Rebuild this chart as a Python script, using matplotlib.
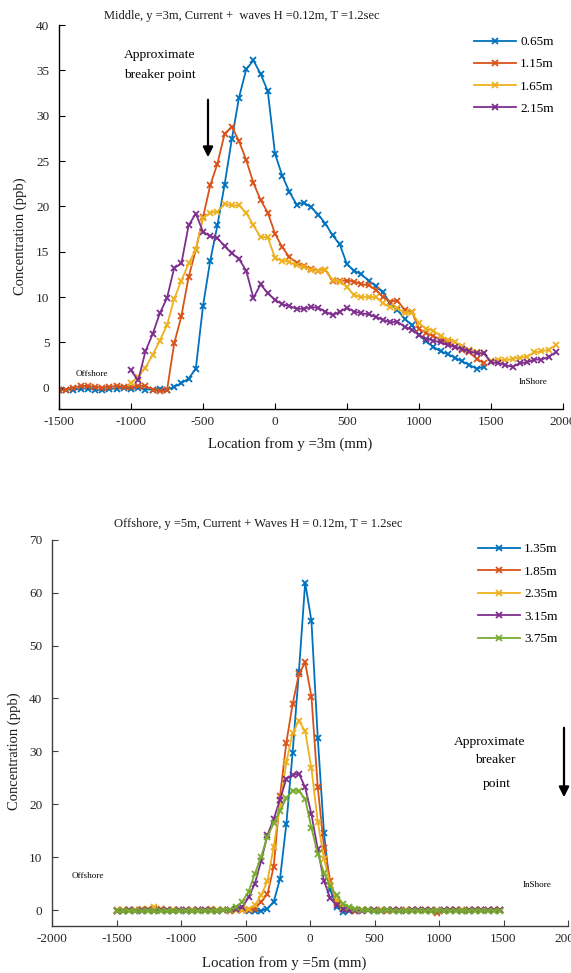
import numpy as np
import matplotlib
matplotlib.use('Agg')
import matplotlib.pyplot as plt

plt.rcParams['font.family'] = ['Liberation Serif', 'DejaVu Serif']
plt.rcParams['axes.unicode_minus'] = False

# ---------------- data: top panel (Middle, y = 3 m) ----------------
top_labels = ['0.65m', '1.15m', '1.65m', '2.15m']
x_top_a = np.arange(-1500, 1451, 50)   # 0.65m and 1.15m
x_top_b = np.arange(-1000, 1951, 50)   # 1.65m and 2.15m

top_065 = [-0.3, -0.2, -0.2, -0.1, -0.1, -0.2, -0.3, -0.1, -0.1, 0.0,
           -0.1, 0.0, -0.2, -0.2, -0.1, -0.2, 0.1, 0.5, 1.0, 2.1,
           9.0, 14.0, 17.9, 22.4, 27.4, 32.0, 35.1, 36.1, 34.6, 32.7,
           25.8, 23.4, 21.6, 20.2, 20.4, 19.9, 19.1, 18.1, 16.8, 15.8,
           13.6, 12.9, 12.5, 11.8, 11.2, 10.5, 9.3, 8.6, 7.6, 6.9,
           5.8, 5.1, 4.5, 4.0, 3.7, 3.3, 2.9, 2.5, 2.1, 2.3]
top_115 = [-0.3, -0.2, 0.0, 0.2, 0.2, 0.1, 0.0, 0.1, 0.2, 0.1,
           0.1, 0.2, 0.2, -0.2, -0.4, -0.3, 4.9, 7.9, 12.2, 15.2,
           18.8, 22.3, 24.7, 28.0, 28.8, 27.2, 25.1, 22.6, 20.7, 19.3,
           17.0, 15.5, 14.4, 13.8, 13.4, 13.1, 12.9, 13.0, 11.8, 11.8,
           11.8, 11.7, 11.4, 11.3, 10.8, 10.0, 9.5, 9.6, 8.6, 8.4,
           6.5, 6.0, 5.7, 5.3, 5.0, 4.5, 4.2, 3.9, 3.2, 2.7]
top_165 = [0.5, 1.2, 2.2, 3.6, 5.2, 6.9, 9.8, 11.8, 13.7, 15.2,
           18.7, 19.3, 19.4, 20.3, 20.1, 20.1, 19.3, 17.9, 16.6, 16.6,
           14.3, 14.0, 13.9, 13.5, 13.3, 13.0, 12.9, 13.0, 11.9, 11.7,
           11.1, 10.2, 10.0, 10.0, 10.0, 9.3, 8.9, 8.8, 8.2, 8.3,
           7.1, 6.5, 6.3, 5.7, 5.3, 5.0, 4.6, 4.2, 3.9, 3.8,
           2.9, 3.1, 3.0, 3.2, 3.3, 3.4, 3.9, 4.0, 4.2, 4.7]
top_215 = [1.9, 0.8, 4.0, 5.9, 8.2, 9.9, 13.2, 13.7, 17.9, 19.2,
           17.2, 16.7, 16.5, 15.6, 14.8, 14.2, 12.9, 9.9, 11.4, 10.4,
           9.7, 9.2, 9.0, 8.7, 8.7, 8.9, 8.8, 8.4, 8.0, 8.4,
           8.8, 8.4, 8.2, 8.1, 7.8, 7.5, 7.2, 7.3, 6.7, 6.4,
           5.8, 5.4, 5.2, 5.0, 4.7, 4.5, 4.3, 4.0, 3.8, 3.8,
           2.8, 2.7, 2.5, 2.3, 2.7, 2.8, 3.1, 3.1, 3.4, 3.9]

# ---------------- data: bottom panel (Offshore, y = 5 m) ----------------
bot_labels = ['1.35m', '1.85m', '2.35m', '3.15m', '3.75m']
x_bot = np.linspace(-1500, 1473.75, 62)

bot_135 = [0.0, -0.1, 0.0, 0.0, -0.1, 0.0, 0.1, 0.0, -0.1, 0.0,
           0.0, -0.1, 0.0, 0.1, 0.0, 0.0, -0.1, 0.0, 0.0, 0.1,
           0.0, -0.2, -0.2, -0.1, 0.3, 1.6, 5.9, 16.2, 29.7, 45.0,
           61.9, 54.6, 32.6, 14.5, 3.8, 0.6, -0.3, -0.2, -0.1, 0.0,
           0.0, -0.1, 0.0, 0.0, 0.0, -0.1, 0.0, 0.0, 0.0, 0.0,
           -0.1, 0.0, 0.0, 0.0, 0.0, 0.0, -0.1, 0.0, 0.0, 0.0,
           0.0, 0.0]
bot_185 = [-0.1, 0.0, 0.1, 0.0, 0.0, 0.1, 0.2, 0.3, 0.1, 0.0,
           0.0, 0.0, 0.1, 0.0, 0.0, 0.0, 0.0, 0.0, -0.1, 0.0,
           0.0, 0.1, 0.3, 1.6, 3.0, 8.2, 21.5, 31.6, 38.9, 44.6,
           46.8, 40.3, 23.3, 11.8, 5.5, 1.3, 0.3, 0.0, -0.1, 0.0,
           0.0, 0.0, 0.0, -0.1, 0.0, 0.0, 0.0, 0.0, 0.0, 0.0,
           -0.2, -0.5, -0.2, 0.0, 0.0, 0.0, 0.0, 0.0, 0.0, 0.0,
           0.0, 0.0]
bot_235 = [0.0, 0.1, 0.0, 0.1, 0.2, 0.3, 0.5, 0.3, 0.1, 0.0,
           0.0, 0.1, 0.0, 0.0, 0.1, 0.2, 0.0, 0.0, 0.0, 0.0,
           0.0, 0.3, 0.9, 2.8, 5.5, 12.0, 19.8, 27.9, 33.4, 35.8,
           33.8, 26.8, 16.7, 9.7, 4.8, 2.0, 0.6, 0.2, 0.0, 0.0,
           0.1, 0.0, 0.0, 0.0, 0.0, 0.0, 0.0, 0.1, 0.0, 0.0,
           0.0, 0.0, 0.0, 0.0, 0.0, 0.0, 0.0, 0.0, 0.0, 0.0,
           0.0, 0.0]
bot_315 = [-0.1, -0.1, 0.0, -0.1, 0.0, 0.0, -0.1, 0.0, 0.0, -0.1,
           0.0, 0.0, -0.1, 0.0, 0.0, 0.0, -0.1, 0.0, 0.0, 0.2,
           0.6, 2.4, 5.0, 9.3, 14.2, 17.2, 20.9, 24.8, 25.5, 25.8,
           23.2, 18.1, 11.5, 5.5, 2.2, 0.9, 0.3, 0.0, 0.0, -0.1,
           0.0, 0.0, -0.1, 0.0, 0.0, 0.0, -0.1, 0.0, 0.0, 0.0,
           0.0, -0.1, 0.0, 0.0, 0.0, -0.1, 0.0, 0.0, 0.0, 0.0,
           0.0, 0.0]
bot_375 = [-0.2, -0.2, -0.1, -0.2, -0.2, -0.1, -0.2, -0.2, -0.1, -0.2,
           -0.2, -0.1, -0.1, -0.2, -0.1, -0.1, -0.1, 0.0, 0.1, 0.6,
           1.6, 3.5, 6.9, 10.1, 13.9, 16.4, 18.8, 21.1, 22.6, 22.5,
           21.0, 15.5, 10.7, 7.0, 4.5, 2.8, 1.2, 0.5, 0.3, 0.1,
           0.0, -0.1, -0.1, 0.0, -0.1, -0.1, -0.1, -0.1, -0.1, -0.1,
           -0.1, -0.1, -0.1, -0.1, -0.1, -0.1, -0.1, -0.1, -0.1, -0.1,
           -0.1, -0.1]

colors = ['#0072BD', '#D95319', '#EDB120', '#7E2F8E', '#77AC30']

# ---------------- figure ----------------
W, H = 571, 973
fig = plt.figure(figsize=(W / 100, H / 100), dpi=100)


def fx(px):
    return px / W


def fy(py):
    return 1 - py / H


line_kw = dict(marker='x', markersize=5, mew=1.3, lw=1.3)
tick_color = '#262626'


def style_axes(ax, spine_color):
    for s in ['top', 'right']:
        ax.spines[s].set_visible(False)
    for s in ['left', 'bottom']:
        ax.spines[s].set_color(spine_color)
        ax.spines[s].set_linewidth(1.0)
    ax.tick_params(direction='in', length=4, width=0.8, colors=spine_color,
                   labelcolor=tick_color, labelsize=9.5)
    ax.tick_params(axis='y', pad=7)
    ax.tick_params(axis='x', pad=5)
    ax.set_facecolor('none')


# ---- top panel ----
ax1 = fig.add_axes([fx(59), fy(409), (563 - 59) / W, (409 - 25) / H])
ax1.plot(x_top_a, top_065, color=colors[0], label=top_labels[0], **line_kw)
ax1.plot(x_top_a, top_115, color=colors[1], label=top_labels[1], **line_kw)
ax1.plot(x_top_b, top_165, color=colors[2], label=top_labels[2], **line_kw)
ax1.plot(x_top_b, top_215, color=colors[3], label=top_labels[3], **line_kw)
ax1.set_xlim(-1500, 2000)
ax1.set_ylim(-2.35, 40)
ax1.set_xticks(np.arange(-1500, 2001, 500))
ax1.set_yticks(np.arange(0, 41, 5))
style_axes(ax1, 'black')
ax1.legend(loc='upper left', bbox_to_anchor=(fx(474), fy(36)),
           bbox_transform=fig.transFigure, frameon=False, fontsize=9.5,
           handlelength=3.2, handletextpad=0.3, labelspacing=0.75,
           borderpad=0, borderaxespad=0)

fig.text(fx(242), fy(16), 'Middle, y =3m, Current +  waves H =0.12m, T =1.2sec',
         ha='center', va='center', fontsize=9, color='#1a1a1a')
fig.text(fx(160), fy(55), 'Approximate', ha='center', va='center', fontsize=9.7)
fig.text(fx(160), fy(75), 'breaker point', ha='center', va='center', fontsize=9.7)
fig.add_artist(matplotlib.patches.FancyArrowPatch(
    (fx(208), fy(97)), (fx(208), fy(160)), transform=fig.transFigure,
    arrowstyle='-|>', mutation_scale=15, color='black', lw=1.6))
fig.text(fx(92), fy(374), 'Offshore', ha='center', va='center', fontsize=6.5)
fig.text(fx(533), fy(382), 'InShore', ha='center', va='center', fontsize=6.5)
fig.text(fx(290), fy(444), 'Location from y =3m (mm)', ha='center', va='center',
         fontsize=10.7, color='#1a1a1a')
fig.text(fx(20), fy(236), 'Concentration (ppb)', ha='center', va='center',
         rotation=90, fontsize=10.5, color='#1a1a1a')

# ---- bottom panel ----
ax2 = fig.add_axes([fx(52), fy(926), (568 - 52) / W, (926 - 539.7) / H])
for vals, c, lab in zip([bot_135, bot_185, bot_235, bot_315, bot_375], colors, bot_labels):
    ax2.plot(x_bot, vals, color=c, label=lab, **line_kw)
ax2.set_xlim(-2000, 2000)
ax2.set_ylim(-3, 70)
ax2.set_xticks(np.arange(-2000, 2001, 500))
ax2.set_yticks(np.arange(0, 71, 10))
style_axes(ax2, '#404040')
ax2.legend(loc='upper left', bbox_to_anchor=(fx(478), fy(543)),
           bbox_transform=fig.transFigure, frameon=False, fontsize=9.5,
           handlelength=3.2, handletextpad=0.3, labelspacing=0.78,
           borderpad=0, borderaxespad=0)

fig.text(fx(258), fy(524), 'Offshore, y =5m, Current + Waves H = 0.12m, T = 1.2sec',
         ha='center', va='center', fontsize=9, color='#1a1a1a')
fig.text(fx(490), fy(742), 'Approximate', ha='center', va='center', fontsize=9.7)
fig.text(fx(495), fy(760), 'breaker', ha='center', va='center', fontsize=9.7)
fig.text(fx(497), fy(784), 'point', ha='center', va='center', fontsize=9.7)
fig.add_artist(matplotlib.patches.FancyArrowPatch(
    (fx(564), fy(725)), (fx(564), fy(800)), transform=fig.transFigure,
    arrowstyle='-|>', mutation_scale=15, color='black', lw=1.6))
fig.text(fx(88), fy(876), 'Offshore', ha='center', va='center', fontsize=6.5)
fig.text(fx(537), fy(885), 'InShore', ha='center', va='center', fontsize=6.5)
fig.text(fx(284), fy(963), 'Location from y =5m (mm)', ha='center', va='center',
         fontsize=10.7, color='#1a1a1a')
fig.text(fx(14), fy(751), 'Concentration (ppb)', ha='center', va='center',
         rotation=90, fontsize=10.5, color='#1a1a1a')

fig.savefig('out.png', dpi=100)
